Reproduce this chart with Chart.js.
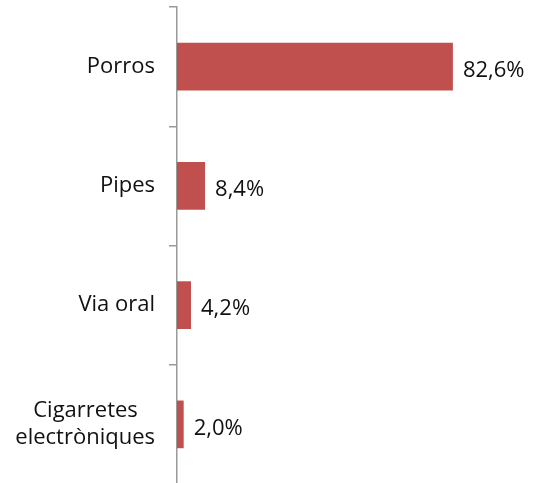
<!DOCTYPE html>
<html>
<head>
<meta charset="utf-8">
<script src="https://cdn.jsdelivr.net/npm/chart.js@4"></script>
<style>
  html, body { margin: 0; padding: 0; background: #fff; overflow: hidden; }
  #wrap { width: 537px; height: 490px; position: relative; }
</style>
</head>
<body>
<div id="wrap"><canvas id="chart"></canvas></div>
<script>
// ── Dades ────────────────────────────────────────────────────
const categories = ['Porros', 'Pipes', 'Via oral', ['Cigarretes   ', 'electròniques']];
const valors     = [82.6, 8.4, 4.2, 2.0];
const etiquetes  = ['82,6%', '8,4%', '4,2%', '2,0%'];

const FONT = { family: 'Open Sans', size: 22 };

// ── Etiquetes de valor al final de cada barra ────────────────
const valueLabels = {
  id: 'valueLabels',
  afterDatasetsDraw(chart) {
    const ctx = chart.ctx;
    const meta = chart.getDatasetMeta(0);
    ctx.save();
    ctx.font = `${FONT.size}px ${FONT.family}`;
    ctx.fillStyle = '#111';
    ctx.textAlign = 'left';
    ctx.textBaseline = 'middle';
    meta.data.forEach((bar, i) => {
      ctx.fillText(etiquetes[i], bar.x + 10, bar.y + 4);
    });
    ctx.restore();
  }
};

new Chart(document.getElementById('chart'), {
  type: 'bar',
  data: {
    labels: categories,
    datasets: [{
      data: valors,
      backgroundColor: '#C0504D',
      borderWidth: 0,
      barPercentage: 0.4,
      categoryPercentage: 1
    }]
  },
  options: {
    indexAxis: 'y',
    responsive: true,
    maintainAspectRatio: false,
    animation: false,
    layout: { padding: { top: 7, right: 26, bottom: 6, left: 0 } },
    plugins: { legend: { display: false }, tooltip: { enabled: false } },
    scales: {
      x: { display: false, min: 0, max: 100 },
      y: {
        afterFit: (s) => {
          s.width = 177;
          s.paddingTop = 0;
          s.paddingBottom = 0;
        },
        border: { display: true, color: '#9a9a9a', width: 1.5 },
        grid: {
          drawOnChartArea: false,
          drawTicks: true,
          tickLength: 8,
          color: '#9a9a9a',
          lineWidth: 1.5,
          offset: true
        },
        ticks: { color: '#111', font: FONT, padding: 14 }
      }
    }
  },
  plugins: [valueLabels]
});
</script>
</body>
</html>
